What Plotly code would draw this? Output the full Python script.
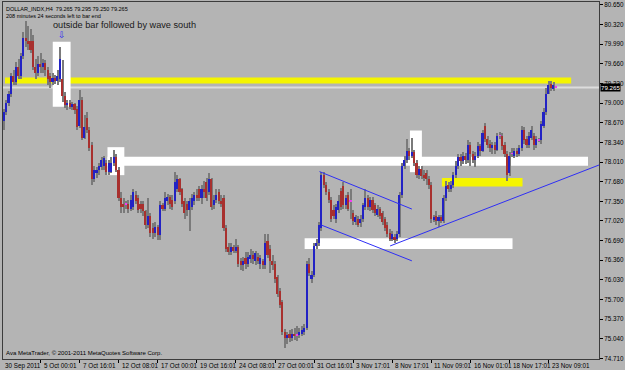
import plotly.graph_objects as go

# ---------------- data ----------------
opens = [
    78.70, 78.85, 79.00, 79.15, 79.45, 79.35, 79.60, 79.45, 79.80, 80.10,
    80.05, 80.05, 80.05, 79.60, 79.50, 79.65, 79.60, 79.68, 79.55, 79.45,
    79.35, 79.42, 79.38, 79.40, 79.40, 79.12, 78.97, 79.00, 78.93, 78.98,
    78.90, 78.62, 79.05, 78.42, 78.75, 78.55, 78.30, 77.72, 77.82, 77.88,
    77.93, 77.95, 78.00, 77.85, 77.85, 78.00, 78.10, 77.88, 77.40, 77.30,
    77.30, 77.30, 77.22, 77.25, 77.45, 77.40, 77.30, 77.30, 77.18, 76.95,
    77.10, 76.90, 76.82, 76.92, 76.78, 77.28, 77.22, 77.35, 77.42, 77.38,
    77.35, 77.55, 77.72, 77.55, 77.35, 77.30, 77.20, 77.25, 77.35, 77.45,
    77.55, 77.40, 77.55, 77.68, 77.50, 77.72, 77.28, 77.38, 77.50, 77.35,
    77.40, 76.90, 76.58, 76.50, 76.58, 76.52, 76.58, 76.35, 76.28, 76.40,
    76.30, 76.38, 76.45, 76.35, 76.42, 76.30, 76.35, 76.28, 76.68, 76.55,
    76.35, 76.30, 76.08, 75.85, 75.65, 75.15, 75.05, 75.12, 75.05, 75.12,
    75.10, 75.10, 75.12, 75.15, 75.22, 76.30, 76.05, 76.12, 76.60, 76.65,
    76.90, 77.80, 77.62, 77.50, 77.38, 77.20, 77.05, 77.20, 77.52, 77.60,
    77.28, 77.45, 77.35, 77.15, 77.00, 77.05, 76.98, 77.05, 77.25, 77.40,
    77.25, 77.38, 77.28, 77.12, 77.22, 77.15, 77.05, 76.95, 76.82, 76.72,
    76.75, 76.72, 76.80, 77.45, 77.95, 78.05, 78.20, 78.12, 78.18, 78.00,
    77.80, 77.90, 77.80, 77.82, 77.72, 77.62, 77.05, 77.10, 77.02, 77.08,
    77.02, 77.40, 77.62, 77.55, 77.62, 77.80, 77.95, 78.10, 78.02, 78.12,
    78.05, 78.30, 78.15, 78.05, 78.12, 78.28, 78.20, 78.62, 78.40, 78.32,
    78.25, 78.30, 78.22, 78.45, 78.45, 78.30, 78.15, 77.82, 78.15, 78.12,
    78.20, 78.15, 78.25, 78.55, 78.40, 78.30, 78.42, 78.45, 78.30, 78.38,
    78.38, 78.62, 78.85, 79.15, 79.32, 79.24, 79.265,
]
highs = [
    78.90, 79.05, 79.20, 79.50, 79.55, 79.70, 79.75, 79.85, 80.20, 80.38,
    80.30, 80.25, 80.15, 79.75, 79.80, 79.85, 79.75, 79.72, 79.60, 79.50,
    79.50, 79.48, 79.55, 79.95, 79.72, 79.18, 79.05, 79.05, 79.02, 79.00,
    78.95, 79.22, 79.10, 78.80, 78.85, 78.60, 78.35, 77.95, 77.92, 78.00,
    78.10, 78.12, 78.05, 78.05, 78.10, 78.22, 78.15, 77.92, 77.50, 77.40,
    77.35, 77.38, 77.45, 77.55, 77.52, 77.45, 77.35, 77.35, 77.20, 77.40,
    77.15, 76.98, 77.00, 76.95, 77.35, 77.32, 77.50, 77.48, 77.45, 77.45,
    77.85, 77.80, 77.75, 77.58, 77.40, 77.35, 77.40, 77.48, 77.50, 77.55,
    77.60, 77.62, 77.70, 77.75, 77.82, 77.75, 77.45, 77.55, 77.55, 77.45,
    77.45, 76.95, 76.65, 76.65, 76.62, 76.72, 76.62, 76.40, 76.42, 76.50,
    76.50, 76.55, 76.52, 76.52, 76.48, 76.45, 76.38, 76.80, 76.80, 76.62,
    76.45, 76.35, 76.12, 75.90, 75.70, 75.20, 75.15, 75.18, 75.20, 75.22,
    75.25, 75.22, 75.25, 75.28, 76.35, 76.40, 76.18, 76.65, 76.72, 77.00,
    77.85, 77.85, 77.68, 77.55, 77.42, 77.28, 77.30, 77.45, 77.58, 77.68,
    77.45, 77.50, 77.55, 77.20, 77.12, 77.10, 77.12, 77.32, 77.55, 77.45,
    77.42, 77.42, 77.32, 77.28, 77.25, 77.18, 77.08, 77.00, 76.88, 76.85,
    76.80, 76.85, 77.50, 78.00, 78.12, 78.40, 78.25, 78.42, 78.22, 78.05,
    77.95, 77.95, 77.88, 77.88, 77.78, 77.68, 77.12, 77.18, 77.12, 77.12,
    77.45, 77.70, 77.68, 77.70, 77.85, 78.02, 78.15, 78.15, 78.18, 78.16,
    78.38, 78.35, 78.20, 78.18, 78.35, 78.32, 78.55, 78.67, 78.45, 78.38,
    78.35, 78.35, 78.50, 78.52, 78.50, 78.35, 78.20, 78.18, 78.25, 78.25,
    78.25, 78.30, 78.62, 78.60, 78.45, 78.52, 78.62, 78.50, 78.45, 78.42,
    78.70, 78.92, 79.25, 79.38, 79.38, 79.36, 79.295,
]
lows = [
    78.55, 78.80, 78.95, 79.10, 79.30, 79.30, 79.40, 79.40, 79.75, 79.95,
    79.90, 79.85, 79.55, 79.40, 79.45, 79.50, 79.50, 79.45, 79.30, 79.25,
    79.30, 79.33, 79.30, 79.35, 79.02, 78.92, 78.88, 78.90, 78.88, 78.82,
    78.55, 78.58, 78.38, 78.40, 78.50, 78.20, 77.62, 77.68, 77.75, 77.80,
    77.88, 77.88, 77.80, 77.80, 77.82, 77.95, 77.85, 77.35, 77.15, 77.15,
    77.22, 77.15, 77.18, 77.20, 77.30, 77.15, 77.15, 77.10, 76.88, 76.90,
    76.75, 76.72, 76.75, 76.70, 76.70, 77.18, 77.18, 77.28, 77.22, 77.20,
    77.30, 77.50, 77.45, 77.25, 77.05, 77.10, 76.85, 77.20, 77.28, 77.35,
    77.35, 77.30, 77.40, 77.35, 77.45, 77.20, 77.22, 77.32, 77.30, 77.25,
    76.85, 76.50, 76.45, 76.45, 76.48, 76.48, 76.25, 76.20, 76.18, 76.22,
    76.25, 76.32, 76.30, 76.28, 76.30, 76.22, 76.22, 76.22, 76.40, 76.15,
    76.20, 75.98, 75.75, 75.55, 75.10, 74.88, 74.95, 74.98, 75.00, 75.02,
    75.00, 75.05, 75.08, 75.10, 75.18, 76.10, 75.98, 76.08, 76.55, 76.60,
    76.85, 77.58, 77.45, 77.32, 77.00, 77.05, 76.98, 77.15, 77.20, 77.22,
    77.22, 77.18, 77.05, 76.95, 76.95, 76.92, 76.92, 77.00, 77.20, 77.20,
    77.18, 77.15, 77.10, 77.08, 77.05, 76.95, 76.85, 76.75, 76.68, 76.68,
    76.65, 76.68, 76.75, 77.40, 77.90, 78.00, 78.05, 78.08, 77.95, 77.75,
    77.72, 77.72, 77.70, 77.62, 77.55, 76.98, 77.00, 76.95, 76.92, 76.98,
    76.98, 77.35, 77.50, 77.50, 77.58, 77.75, 77.90, 77.95, 77.98, 77.98,
    78.00, 77.95, 78.00, 77.92, 78.08, 78.12, 78.18, 78.35, 78.25, 78.18,
    78.15, 78.15, 78.20, 78.40, 78.22, 78.10, 77.70, 77.78, 78.10, 78.08,
    78.10, 78.12, 78.20, 78.32, 78.25, 78.25, 78.38, 78.22, 78.25, 78.35,
    78.32, 78.58, 78.80, 79.15, 79.20, 79.20, 79.25,
]
closes = [
    78.85, 79.00, 79.15, 79.45, 79.35, 79.60, 79.45, 79.80, 80.10, 80.05,
    80.00, 79.90, 79.60, 79.50, 79.65, 79.60, 79.68, 79.55, 79.40, 79.35,
    79.42, 79.38, 79.45, 79.75, 79.12, 78.97, 79.00, 78.93, 78.98, 78.88,
    78.60, 79.05, 78.42, 78.60, 78.55, 78.25, 77.72, 77.88, 77.88, 77.95,
    78.05, 78.08, 77.85, 78.00, 78.00, 78.10, 77.88, 77.40, 77.25, 77.25,
    77.30, 77.22, 77.38, 77.50, 77.35, 77.20, 77.22, 77.18, 76.95, 77.10,
    76.82, 76.82, 76.92, 76.78, 77.28, 77.22, 77.40, 77.42, 77.30, 77.25,
    77.68, 77.72, 77.50, 77.30, 77.15, 77.20, 77.35, 77.40, 77.45, 77.40,
    77.40, 77.55, 77.50, 77.40, 77.72, 77.25, 77.38, 77.45, 77.35, 77.30,
    76.90, 76.55, 76.50, 76.58, 76.52, 76.58, 76.30, 76.28, 76.35, 76.30,
    76.42, 76.45, 76.38, 76.48, 76.35, 76.40, 76.28, 76.65, 76.45, 76.35,
    76.28, 76.05, 75.80, 75.60, 75.15, 75.05, 75.10, 75.05, 75.12, 75.08,
    75.10, 75.15, 75.18, 75.22, 76.30, 76.15, 76.12, 76.60, 76.65, 76.95,
    77.80, 77.62, 77.50, 77.38, 77.05, 77.10, 77.25, 77.35, 77.25, 77.28,
    77.40, 77.22, 77.35, 77.02, 77.08, 76.95, 77.05, 77.28, 77.40, 77.25,
    77.38, 77.20, 77.15, 77.22, 77.10, 77.00, 76.90, 76.80, 76.72, 76.80,
    76.70, 76.80, 77.45, 77.95, 78.05, 78.20, 78.12, 78.18, 78.00, 77.80,
    77.90, 77.78, 77.75, 77.72, 77.62, 77.05, 77.08, 77.02, 77.08, 77.02,
    77.40, 77.60, 77.55, 77.62, 77.80, 77.95, 78.10, 78.02, 78.12, 78.05,
    78.30, 78.15, 78.05, 78.12, 78.28, 78.20, 78.50, 78.40, 78.30, 78.25,
    78.30, 78.22, 78.45, 78.45, 78.28, 78.15, 77.80, 78.12, 78.15, 78.20,
    78.15, 78.25, 78.55, 78.38, 78.30, 78.45, 78.55, 78.30, 78.40, 78.38,
    78.65, 78.85, 79.15, 79.30, 79.26, 79.30, 79.265,
]

date_labels = ["30 Sep 2011", "5 Oct 00:01", "7 Oct 16:01", "12 Oct 08:01", "17 Oct 00:01",
               "19 Oct 16:01", "24 Oct 08:01", "27 Oct 00:01", "31 Oct 16:01", "3 Nov 17:01",
               "8 Nov 17:01", "11 Nov 09:01", "16 Nov 01:01", "18 Nov 17:01", "23 Nov 09:01"]
date_label_bars = [None, 15, 31, 47, 63, 79, 95, 111, 127, 143, 159, 175, 191, 207, 223]

price_ticks = [80.650, 80.320, 79.990, 79.660, 79.330, 79.000, 78.670, 78.340, 78.010,
               77.680, 77.350, 77.020, 76.690, 76.360, 76.030, 75.700, 75.370, 75.040, 74.710]
last_price = 79.265

assert len(opens) == len(highs) == len(lows) == len(closes)
n = len(opens)
idx = list(range(n))

# ---------------- styling ----------------
BG = "#b4b4b4"
UP = "#2222c4"
DOWN = "#a8302e"
DOJI = "#f23cf2"
WICK = "#7a7a7a"
FONT = "Liberation Sans, Arial, sans-serif"

body_base = [min(o, c) for o, c in zip(opens, closes)]
body_h = [max(abs(c - o), 0.012) for o, c in zip(opens, closes)]
body_col = [UP if c > o else (DOWN if c < o else DOJI) for o, c in zip(opens, closes)]
wick_h = [h - l for h, l in zip(highs, lows)]

fig = go.Figure()
fig.add_trace(go.Bar(x=idx, y=wick_h, base=lows, width=0.42,
                     marker=dict(color=WICK, line=dict(width=0)), hoverinfo="skip"))
fig.add_trace(go.Bar(x=idx, y=body_h, base=body_base, width=0.66,
                     marker=dict(color=body_col, line=dict(width=0)),
                     customdata=list(zip(opens, highs, lows, closes)),
                     hovertemplate="O %{customdata[0]}<br>H %{customdata[1]}<br>L %{customdata[2]}<br>C %{customdata[3]}<extra></extra>"))

shapes = []
def rect(x0, x1, y0, y1, color):
    shapes.append(dict(type="rect", xref="x", yref="y", x0=x0, x1=x1, y0=y0, y1=y1,
                       fillcolor=color, line=dict(width=0), layer="below"))
def line(x0, y0, x1, y1, color="#2e2ef5", w=1):
    shapes.append(dict(type="line", xref="x", yref="y", x0=x0, y0=y0, x1=x1, y1=y1,
                       line=dict(color=color, width=w), layer="above"))

# zones drawn on the chart
rect(0.45, 232.2, 79.33, 79.43, "#f5f500")      # long yellow band
rect(42.4, 239.1, 77.95, 78.10, "#ffffff")      # long white band
rect(20.0, 27.3, 78.94, 80.03, "#ffffff")       # outside bar box
rect(42.4, 49.3, 77.79, 78.26, "#ffffff")
rect(166.2, 171.1, 77.84, 78.54, "#ffffff")
rect(123.1, 208.2, 76.55, 76.73, "#ffffff")
rect(179.3, 212.3, 77.60, 77.74, "#f5f500")     # small yellow
# bid line
shapes.append(dict(type="line", xref="paper", yref="y", x0=0, x1=1, y0=last_price, y1=last_price,
                   line=dict(color="#dcdcdc", width=2), layer="below"))
# channel and trend lines
line(129.2, 77.85, 167.0, 77.22)
line(130.0, 76.95, 167.0, 76.35)
line(158.1, 76.60, 243.6, 77.96)

annotations = [
    dict(xref="paper", yref="paper", x=0.002, y=0.995, xanchor="left", yanchor="top",
         text="DOLLAR_INDX,H4  79.265 79.295 79.250 79.265", showarrow=False,
         font=dict(family="Liberation Sans Narrow, " + FONT, size=5.5, color="#000")),
    dict(xref="paper", yref="paper", x=0.002, y=0.975, xanchor="left", yanchor="top",
         text="208 minutes 24 seconds left to bar end", showarrow=False,
         font=dict(family="Liberation Sans Narrow, " + FONT, size=5.5, color="#000")),
    dict(xref="x", yref="y", x=19.2, y=80.31, xanchor="left", yanchor="middle",
         text="outside bar followed by wave south", showarrow=False,
         font=dict(family=FONT, size=9.2, color="#1a1a1a")),
    dict(xref="x", yref="y", x=23.7, y=80.14, xanchor="center", yanchor="middle",
         text="⇩", showarrow=False, font=dict(family="DejaVu Sans", size=9, color="#2a2af0")),
    dict(xref="paper", yref="paper", x=0.002, y=0.0, xanchor="left", yanchor="bottom",
         yshift=1, text="Ava MetaTrader, © 2001-2011 MetaQuotes Software Corp.", showarrow=False,
         font=dict(family=FONT, size=6, color="#000")),
    dict(xref="paper", yref="y", x=1.0, y=last_price, xanchor="left", yanchor="middle",
         xshift=1, text="79.265", showarrow=False, bgcolor="#000000", borderpad=0,
         font=dict(family=FONT, size=6.2, color="#ffffff")),
]
for lab, b in zip(date_labels, date_label_bars):
    if b is None:
        annotations.append(dict(xref="paper", yref="paper", x=0.0, y=0, xanchor="left",
                                yanchor="top", yshift=-1, text=lab, showarrow=False,
                                font=dict(family=FONT, size=6.3, color="#000")))
    else:
        annotations.append(dict(xref="x", yref="paper", x=b, y=0, xanchor="left",
                                yanchor="top", yshift=-1, xshift=1, text=lab, showarrow=False,
                                font=dict(family=FONT, size=6.3, color="#000")))

fig.update_layout(
    width=625, height=370,
    margin=dict(l=3, r=23, t=1, b=11),
    paper_bgcolor=BG, plot_bgcolor=BG,
    barmode="overlay", bargap=0, showlegend=False,
    shapes=shapes, annotations=annotations,
    xaxis=dict(range=[-0.37, 243.6], showgrid=False, zeroline=False,
               showline=True, mirror=True, linecolor="#3c3c3c", linewidth=1,
               tickvals=[b for b in date_label_bars if b is not None],
               ticks="outside", ticklen=3, tickcolor="#000", showticklabels=False),
    yaxis=dict(range=[74.70, 80.70], side="right", showgrid=False, zeroline=False,
               showline=True, mirror=True, linecolor="#3c3c3c", linewidth=1,
               tickvals=price_ticks, ticktext=[f"{p:.3f}" for p in price_ticks],
               ticks="outside", ticklen=3, tickcolor="#000",
               tickfont=dict(family=FONT, size=6.3, color="#000")),
)

fig.write_html("out.html")
